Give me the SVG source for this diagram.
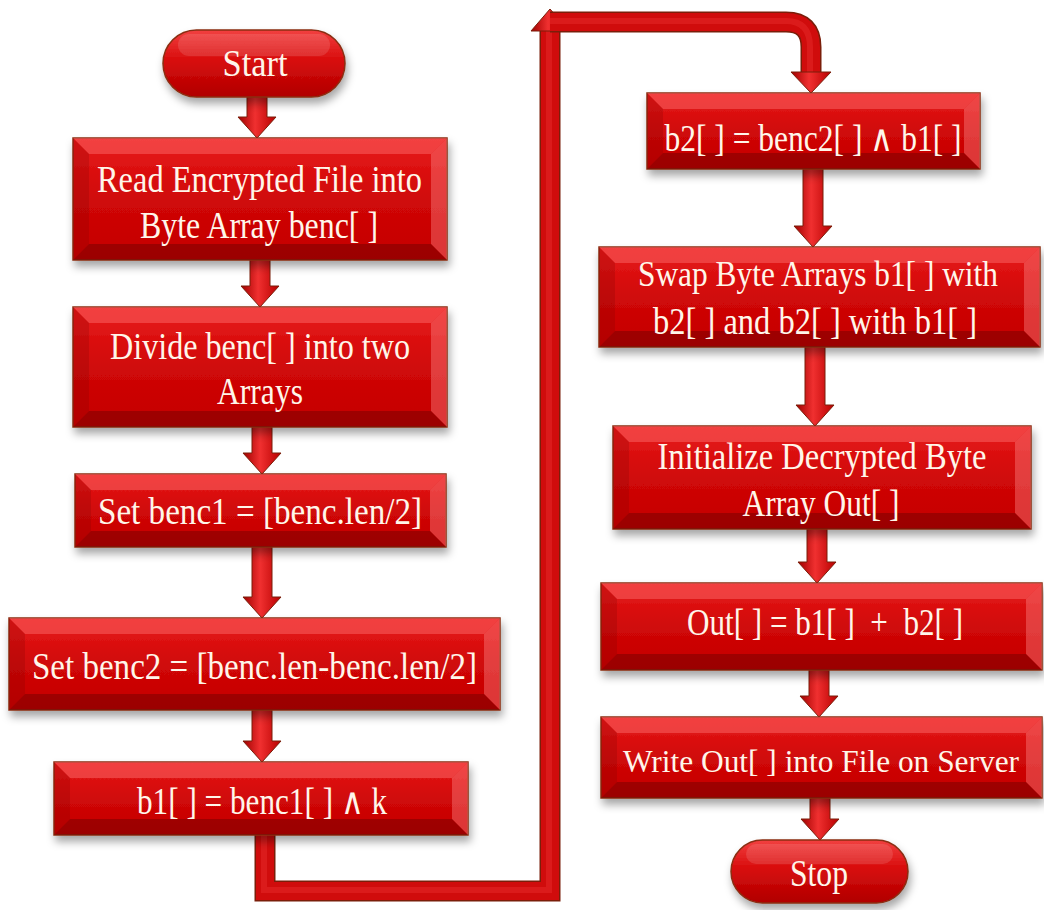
<svg xmlns="http://www.w3.org/2000/svg" width="1044" height="910" viewBox="0 0 1044 910">
<defs>
<style>
.face{fill:url(#gFace);stroke:#8a2e12;stroke-width:1.5}
.bt{fill:#ff7070;opacity:.45}
.bl{fill:#7a0000;opacity:.22}
.br{fill:#ff8a8a;opacity:.4}
.bb{fill:#500000;opacity:.35}
.pill{fill:url(#gPill);stroke:#8a2e12;stroke-width:1.5}
.lbl{font-family:"Liberation Serif","Times New Roman",serif;font-size:37px;fill:#fff6ea;text-anchor:middle}
.arr{fill:url(#gArr);stroke:#7a1e0a;stroke-width:1}
.lineO{fill:none;stroke:#7a1e0a;stroke-width:21;stroke-linejoin:miter}
.lineM{fill:none;stroke:#d00c0c;stroke-width:18;stroke-linejoin:miter}
.lineH{fill:none;stroke:#f23a3a;stroke-width:6;stroke-linejoin:miter;opacity:.35}
</style>
<linearGradient id="gFace" x1="0" y1="0" x2="0" y2="1">
<stop offset="0" stop-color="#e81a1a"/>
<stop offset="0.5" stop-color="#d00808"/>
<stop offset="1" stop-color="#c40000"/>
</linearGradient>
<linearGradient id="gPill" x1="0" y1="0" x2="0" y2="1">
<stop offset="0" stop-color="#f24040"/>
<stop offset="0.45" stop-color="#d80c0c"/>
<stop offset="1" stop-color="#b00000"/>
</linearGradient>
<linearGradient id="gArr" x1="0" y1="0" x2="1" y2="0">
<stop offset="0" stop-color="#a00000"/>
<stop offset="0.45" stop-color="#f03030"/>
<stop offset="1" stop-color="#b80000"/>
</linearGradient>
<filter id="sh" x="-10%" y="-20%" width="120%" height="150%">
<feDropShadow dx="2" dy="6" stdDeviation="4" flood-color="#000" flood-opacity="0.35"/>
</filter>
</defs>
<rect width="1044" height="910" fill="#ffffff"/>

<g id="connectors">
<g id="loop">
<path class="lineO" d="M265 835 V891 H550 V28"/>
<path class="lineM" d="M265 835 V891 H550 V28"/>
<path class="lineH" d="M264 835 V890 H549 V28"/>
<polygon class="arr" points="531,31 569,31 550,9"/>
<path class="lineO" d="M550 22 H786 Q811 22 811 47 V73"/>
<path class="lineM" d="M550 22 H786 Q811 22 811 47 V73"/>
<path class="lineH" d="M550 21 H786 Q810 21 810 47 V73"/>
<polygon class="arr" points="791,72 831,72 811,93"/>
</g>
<polygon class="arr" points="247,97 267,97 267,117 276,117 257,138 238,117 247,117"/>
<polygon class="arr" points="250,260 270,260 270,286 279,286 260,307 241,286 250,286"/>
<polygon class="arr" points="252,427 272,427 272,453 281,453 262,474 243,453 252,453"/>
<polygon class="arr" points="252,547 272,547 272,597 281,597 262,618 243,597 252,597"/>
<polygon class="arr" points="252,710 272,710 272,741 281,741 262,762 243,741 252,741"/>
<polygon class="arr" points="803,169 823,169 823,226 832,226 813,247 794,226 803,226"/>
<polygon class="arr" points="805,347 825,347 825,405 834,405 815,426 796,405 805,405"/>
<polygon class="arr" points="807,529 827,529 827,562 836,562 817,583 798,562 807,562"/>
<polygon class="arr" points="809,670 829,670 829,696 838,696 819,717 800,696 809,696"/>
<polygon class="arr" points="810,798 830,798 830,819 839,819 820,840 801,819 810,819"/>
</g>

<g id="n-start">
<rect class="pill" filter="url(#sh)" x="163" y="30" width="182" height="67" rx="33.5"/>
<rect x="178" y="34" width="152" height="22" rx="11" fill="#ffffff" opacity="0.12"/>
<text class="lbl" x="255" y="76" textLength="65" lengthAdjust="spacingAndGlyphs">Start</text>
</g>

<g id="n-read">
<rect class="face" filter="url(#sh)" x="73" y="138" width="374" height="122"/>
<polygon class="bt" points="73,138 447,138 431,154 89,154"/>
<polygon class="bl" points="73,138 89,154 89,244 73,260"/>
<polygon class="br" points="447,138 447,260 431,244 431,154"/>
<polygon class="bb" points="73,260 447,260 431,244 89,244"/>
<text class="lbl" x="259.5" y="192" textLength="325" lengthAdjust="spacingAndGlyphs">Read Encrypted File into</text>
<text class="lbl" x="259" y="238" textLength="238" lengthAdjust="spacingAndGlyphs">Byte Array benc[ ]</text>
</g>

<g id="n-divide">
<rect class="face" filter="url(#sh)" x="73" y="307" width="374" height="120"/>
<polygon class="bt" points="73,307 447,307 431,323 89,323"/>
<polygon class="bl" points="73,307 89,323 89,411 73,427"/>
<polygon class="br" points="447,307 447,427 431,411 431,323"/>
<polygon class="bb" points="73,427 447,427 431,411 89,411"/>
<text class="lbl" x="260" y="359" textLength="300" lengthAdjust="spacingAndGlyphs">Divide benc[ ] into two</text>
<text class="lbl" x="260" y="404" textLength="86" lengthAdjust="spacingAndGlyphs">Arrays</text>
</g>

<g id="n-benc1">
<rect class="face" filter="url(#sh)" x="75" y="474" width="371" height="73"/>
<polygon class="bt" points="75,474 446,474 430,490 91,490"/>
<polygon class="bl" points="75,474 91,490 91,531 75,547"/>
<polygon class="br" points="446,474 446,547 430,531 430,490"/>
<polygon class="bb" points="75,547 446,547 430,531 91,531"/>
<text class="lbl" x="260" y="524" textLength="324" lengthAdjust="spacingAndGlyphs">Set benc1 = [benc.len/2]</text>
</g>

<g id="n-benc2">
<rect class="face" filter="url(#sh)" x="9" y="618" width="491" height="92"/>
<polygon class="bt" points="9,618 500,618 484,634 25,634"/>
<polygon class="bl" points="9,618 25,634 25,694 9,710"/>
<polygon class="br" points="500,618 500,710 484,694 484,634"/>
<polygon class="bb" points="9,710 500,710 484,694 25,694"/>
<text class="lbl" x="254.5" y="679" textLength="445" lengthAdjust="spacingAndGlyphs">Set benc2 = [benc.len-benc.len/2]</text>
</g>

<g id="n-b1">
<rect class="face" filter="url(#sh)" x="54" y="762" width="414" height="73"/>
<polygon class="bt" points="54,762 468,762 452,778 70,778"/>
<polygon class="bl" points="54,762 70,778 70,819 54,835"/>
<polygon class="br" points="468,762 468,835 452,819 452,778"/>
<polygon class="bb" points="54,835 468,835 452,819 70,819"/>
<text class="lbl" x="262" y="814" textLength="250" lengthAdjust="spacingAndGlyphs">b1[ ] = benc1[ ] ∧ k</text>
</g>

<g id="n-b2">
<rect class="face" filter="url(#sh)" x="647" y="93" width="333" height="76"/>
<polygon class="bt" points="647,93 980,93 964,109 663,109"/>
<polygon class="bl" points="647,93 663,109 663,153 647,169"/>
<polygon class="br" points="980,93 980,169 964,153 964,109"/>
<polygon class="bb" points="647,169 980,169 964,153 663,153"/>
<text class="lbl" x="813" y="151" textLength="297" lengthAdjust="spacingAndGlyphs">b2[ ] = benc2[ ] ∧ b1[ ]</text>
</g>

<g id="n-swap">
<rect class="face" filter="url(#sh)" x="599" y="247" width="441" height="100"/>
<polygon class="bt" points="599,247 1040,247 1024,263 615,263"/>
<polygon class="bl" points="599,247 615,263 615,331 599,347"/>
<polygon class="br" points="1040,247 1040,347 1024,331 1024,263"/>
<polygon class="bb" points="599,347 1040,347 1024,331 615,331"/>
<text class="lbl" x="818" y="286" textLength="360" lengthAdjust="spacingAndGlyphs" style="font-size:35px">Swap Byte Arrays b1[ ] with</text>
<text class="lbl" x="815" y="334" textLength="324" lengthAdjust="spacingAndGlyphs">b2[ ] and b2[ ] with b1[ ]</text>
</g>

<g id="n-init">
<rect class="face" filter="url(#sh)" x="613" y="426" width="418" height="103"/>
<polygon class="bt" points="613,426 1031,426 1015,442 629,442"/>
<polygon class="bl" points="613,426 629,442 629,513 613,529"/>
<polygon class="br" points="1031,426 1031,529 1015,513 1015,442"/>
<polygon class="bb" points="613,529 1031,529 1015,513 629,513"/>
<text class="lbl" x="822" y="469" textLength="329" lengthAdjust="spacingAndGlyphs">Initialize Decrypted Byte</text>
<text class="lbl" x="821" y="516" textLength="157" lengthAdjust="spacingAndGlyphs">Array Out[ ]</text>
</g>

<g id="n-out">
<rect class="face" filter="url(#sh)" x="601" y="583" width="441" height="87"/>
<polygon class="bt" points="601,583 1042,583 1026,599 617,599"/>
<polygon class="bl" points="601,583 617,599 617,654 601,670"/>
<polygon class="br" points="1042,583 1042,670 1026,654 1026,599"/>
<polygon class="bb" points="601,670 1042,670 1026,654 617,654"/>
<text class="lbl" x="825" y="635" textLength="276" lengthAdjust="spacingAndGlyphs" xml:space="preserve">Out[ ] = b1[ ]  +  b2[ ]</text>
</g>

<g id="n-write">
<rect class="face" filter="url(#sh)" x="601" y="717" width="441" height="81"/>
<polygon class="bt" points="601,717 1042,717 1026,733 617,733"/>
<polygon class="bl" points="601,717 617,733 617,782 601,798"/>
<polygon class="br" points="1042,717 1042,798 1026,782 1026,733"/>
<polygon class="bb" points="601,798 1042,798 1026,782 617,782"/>
<text class="lbl" x="821" y="772" textLength="396" lengthAdjust="spacingAndGlyphs" style="font-size:32px">Write Out[ ] into File on Server</text>
</g>

<g id="n-stop">
<rect class="pill" filter="url(#sh)" x="731" y="840" width="177" height="63" rx="31.5"/>
<rect x="746" y="844" width="147" height="20" rx="10" fill="#ffffff" opacity="0.12"/>
<text class="lbl" x="819" y="886" textLength="58" lengthAdjust="spacingAndGlyphs">Stop</text>
</g>
</svg>
